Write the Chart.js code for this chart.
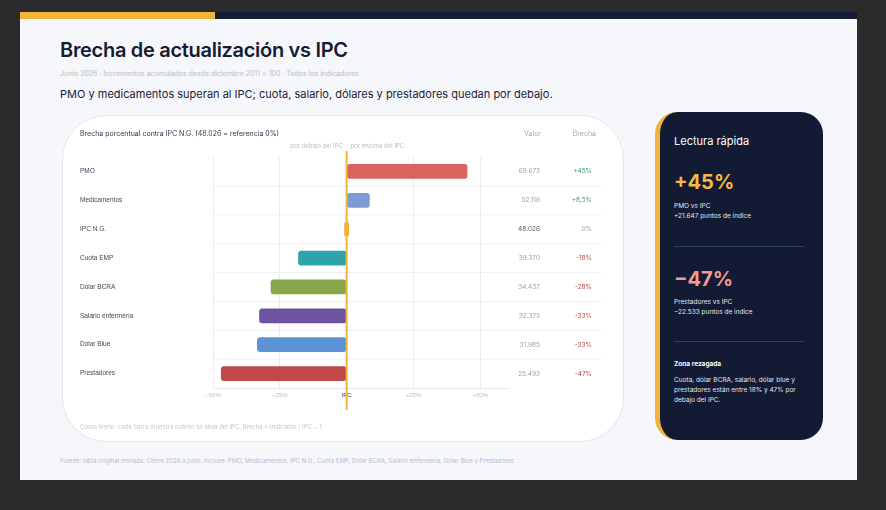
<!DOCTYPE html>
<html><head><meta charset="utf-8">
<script src="https://cdn.jsdelivr.net/npm/chart.js@4/dist/chart.umd.min.js"></script>
<style>
body{margin:0;width:886px;height:510px;background:#2a2a2c;font-family:Inter,"Noto Sans",sans-serif;position:relative;overflow:hidden}
.card{position:absolute;left:20px;top:12px;width:837px;height:468px;background:#f6f7fb}
.topbar{position:absolute;left:0;top:0;width:837px;height:7px;background:#141b34}
.topbar i{position:absolute;left:0;top:0;width:195px;height:7px;background:#f0b43c}
.title{position:absolute;left:40px;top:26px;font-size:20px;font-weight:600;color:#141b34;letter-spacing:-0.3px}
.meta{position:absolute;left:40px;top:57px;font-size:7px;color:#b8bccb}
.lead{position:absolute;left:40px;top:75px;font-size:11px;color:#1b2035}
.panel{position:absolute;left:42px;top:103px;width:560px;height:325px;background:#fff;border:1px solid #e3e6ef;border-radius:44px}
.foot{position:absolute;left:40px;top:445px;font-size:6px;color:#b8bccb}
.side{position:absolute;left:635px;top:100px;width:163px;height:328px;background:#131a33;border-radius:22px;border-left:5px solid #f0b43c;color:#fff}
.side .h{position:absolute;left:14px;top:22px;font-size:11px}
.big{position:absolute;left:14px;font-size:20px;font-weight:700}
.sm{position:absolute;left:14px;font-size:6.5px;line-height:10px;color:#e4e7f0}
.sep{position:absolute;left:14px;width:130px;height:1px;background:#34405f}
canvas{position:absolute;left:62px;top:115px}
</style></head><body>
<div class="card">
<div class="topbar"><i></i></div>
<div class="title">Brecha de actualización vs IPC</div>
<div class="meta">Junio 2026 · Incrementos acumulados desde diciembre 2011 = 100 · Todos los indicadores</div>
<div class="lead">PMO y medicamentos superan al IPC; cuota, salario, dólares y prestadores quedan por debajo.</div>
<div class="panel"></div>
<div class="foot">Fuente: tabla original enviada. Cierre 2026 a junio. Incluye: PMO, Medicamentos, IPC N.G., Cuota EMP, Dólar BCRA, Salario enfermería, Dólar Blue y Prestadores.</div>
<div class="side">
<div class="h">Lectura rápida</div>
<div class="big" style="top:58px;color:#f5b942">+45%</div>
<div class="sm" style="top:89px">PMO vs IPC<br>+21.647 puntos de índice</div>
<div class="sep" style="top:134px"></div>
<div class="big" style="top:155px;color:#f29a94">−47%</div>
<div class="sm" style="top:185px">Prestadores vs IPC<br>−22.533 puntos de índice</div>
<div class="sep" style="top:229px"></div>
<div class="sm" style="top:247px;font-weight:700;color:#fff">Zona rezagada</div>
<div class="sm" style="top:263px;width:135px">Cuota, dólar BCRA, salario, dólar blue y prestadores están entre 18% y 47% por debajo del IPC.</div>
</div>
</div>
<canvas id="c" width="560" height="325"></canvas>
<script>
const categories = ['PMO', 'Medicamentos', 'IPC N.G.', 'Cuota EMP', 'Dólar BCRA', 'Salario enfermería', 'Dólar Blue', 'Prestadores'];
const values = ['69.673', '52.116', '48.026', '39.370', '34.437', '32.373', '31.985', '25.493'];
const gaps = [45.07, 8.52, 0, -18.02, -28.3, -32.6, -33.4, -46.9];
const gapLabels = ['+45%', '+8,5%', '0%', '-18%', '-28%', '-33%', '-33%', '-47%'];
const colors = ['#d9645f', '#7b9bd4', '#f0b43c', '#2fa3ad', '#8aa64a', '#6e54a0', '#5b93d6', '#c24848'];
const tickLabels = {'-50': '−50%', '-25': '−25%', '0': 'IPC', '25': '+25%', '50': '+50%'};

const extras = {
  id: 'extras',
  beforeDatasetsDraw(chart) {
    const {ctx, scales: {x, y}} = chart;
    ctx.save();
    ctx.strokeStyle = '#edf0f6'; ctx.lineWidth = 1;
    for (let i = 0; i < categories.length - 1; i++) {
      const yy = (y.getPixelForValue(i) + y.getPixelForValue(i + 1)) / 2;
      ctx.beginPath(); ctx.moveTo(x.left, yy); ctx.lineTo(540, yy); ctx.stroke();
    }
    ctx.restore();
  },
  afterDatasetsDraw(chart) {
    const {ctx, scales: {x, y}} = chart;
    const x0 = x.getPixelForValue(0);
    ctx.save();
    ctx.strokeStyle = '#f0b43c'; ctx.lineWidth = 2;
    ctx.beginPath(); ctx.moveTo(x0, 36); ctx.lineTo(x0, y.bottom + 22); ctx.stroke();
    ctx.font = '6px Inter, sans-serif'; ctx.fillStyle = '#b8bccb';
    ctx.textAlign = 'right'; ctx.fillText('por debajo del IPC', x0 - 4, 33);
    ctx.textAlign = 'left'; ctx.fillText('por encima del IPC', x0 + 4, 33);
    ctx.font = '7px Inter, sans-serif'; ctx.fillStyle = '#333a4f';
    ctx.fillText('Brecha porcentual contra IPC N.G. (48.026 = referencia 0%)', 18, 21);
    ctx.fillStyle = '#a6abbb'; ctx.textAlign = 'right';
    ctx.fillText('Valor', 479, 21); ctx.fillText('Brecha', 534, 21);
    ctx.font = '6.5px Inter, sans-serif';
    categories.forEach((c, i) => {
      const yy = y.getPixelForValue(i) + 2;
      ctx.fillStyle = i === 2 ? '#555b6e' : '#9aa0b0';
      ctx.fillText(values[i], 478, yy);
      ctx.fillStyle = gaps[i] > 0 ? '#3f9f6a' : gaps[i] < 0 ? '#c24848' : '#9aa0b0';
      ctx.fillText(gapLabels[i], 530, yy);
    });
    ctx.textAlign = 'left'; ctx.fillStyle = '#c3c7d3'; ctx.font = '6px Inter, sans-serif';
    ctx.fillText('Cómo leerlo: cada barra muestra cuánto se aleja del IPC. Brecha = indicador / IPC − 1.', 18, 314);
    ctx.restore();
  }
};

new Chart(document.getElementById('c'), {
  type: 'bar',
  data: {
    labels: categories,
    datasets: [{
      data: gaps.map(g => g === 0 ? [-0.8, 0.8] : [0, g]),
      backgroundColor: colors,
      borderRadius: 3, borderSkipped: false,
      barThickness: 14
    }]
  },
  options: {
    indexAxis: 'y', responsive: false, animation: false,
    layout: {padding: {left: 18, right: 115, top: 42, bottom: 12}},
    plugins: {legend: {display: false}, tooltip: {enabled: false}},
    scales: {
      x: {
        min: -50, max: 60,
        afterFit: s => { s.height = 40; },
        afterBuildTicks: s => { s.ticks = [-50, -25, 0, 25, 50].map(v => ({value: v})); },
        grid: {color: '#e9ecf3', drawTicks: false},
        border: {display: true, color: '#e3e6ef'},
        ticks: {padding: 4, color: c => c.tick.value === 0 ? '#333a4f' : '#b8bccb', font: {size: 6}, callback: v => tickLabels[String(v)]}
      },
      y: {
        afterFit: s => { s.width = 133; },
        grid: {display: false}, border: {display: false},
        ticks: {crossAlign: 'far', color: '#41475a', font: {size: 6.5}}
      }
    }
  },
  plugins: [extras]
});
</script>
</body></html>
